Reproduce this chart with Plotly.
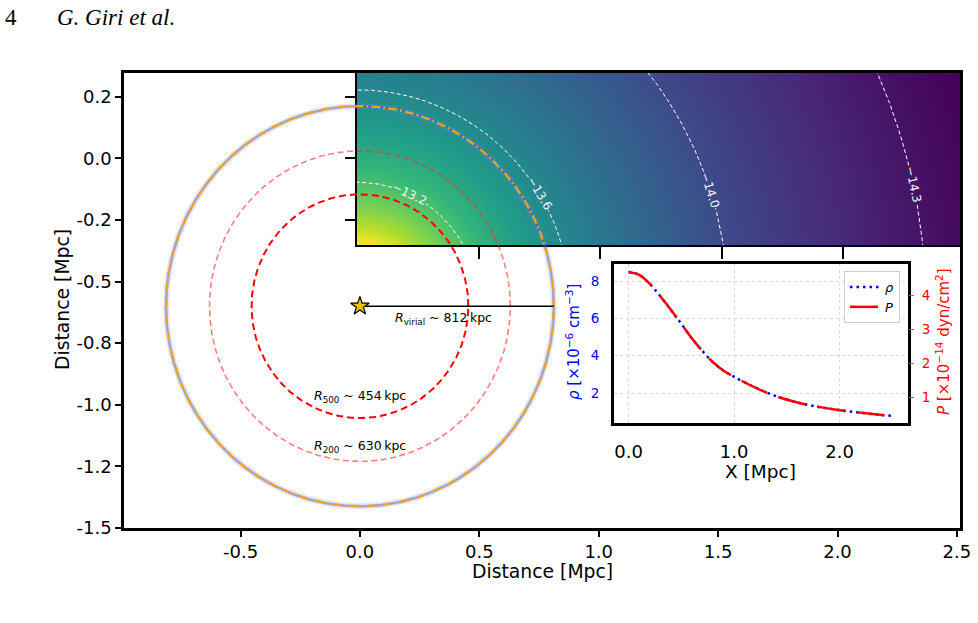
import numpy as np
import plotly.graph_objects as go

# ---------------- data ----------------
R_VIRIAL = 0.812   # Mpc
R200 = 0.630
R500 = 0.454
CENTER_X, CENTER_Y = 0.0, -0.6

CONTOUR_LEVELS = [-13.2, -13.6, -14.0, -14.3]
CONTOUR_RADII = [0.503, 0.878, 1.527, 2.34]
CONTOUR_LABELS = ["\u221213.2", "\u221213.6", "\u221214.0", "\u221214.3"]

X_PROFILE = [0.0, 0.1, 0.2, 0.3, 0.4, 0.5, 0.6, 0.7, 0.8, 0.9, 1.0,
             1.2, 1.4, 1.6, 1.8, 2.0, 2.2, 2.4, 2.5]
RHO = [8.48, 8.33, 7.85, 7.18, 6.45, 5.70, 4.92, 4.25, 3.65, 3.20, 2.87,
       2.30, 1.83, 1.50, 1.26, 1.09, 0.95, 0.83, 0.78]
PRESSURE = [4.70, 4.61, 4.35, 3.98, 3.58, 3.16, 2.73, 2.36, 2.03, 1.78, 1.60,
            1.28, 1.02, 0.84, 0.71, 0.61, 0.54, 0.47, 0.44]

MAIN_XTICKS = [-0.5, 0.0, 0.5, 1.0, 1.5, 2.0, 2.5]
MAIN_XTICKTEXT = ["-0.5", "0.0", "0.5", "1.0", "1.5", "2.0", "2.5"]
MAIN_YTICKS = [0.25, 0.0, -0.25, -0.5, -0.75, -1.0, -1.25, -1.5]
MAIN_YTICKTEXT = ["0.2", "0.0", "-0.2", "-0.5", "-0.8", "-1.0", "-1.2", "-1.5"]
INSET_XTICKS = [0.0, 1.0, 2.0]
INSET_XTICKTEXT = ["0.0", "1.0", "2.0"]
RHO_TICKS = [2, 4, 6, 8]
P_TICKS = [1, 2, 3, 4]

# ---------------- layout helpers ----------------
W, H = 978, 623
ML, MR, MT, MB = 124, 18, 73, 95
PW, PH = W - ML - MR, H - MT - MB


def pxx(px):
    return (px - ML) / PW


def pxy(py):
    return (H - MB - py) / PH


FONT = "DejaVu Sans"

# heatmap (own axes, x / y)
HX_RANGE = [0.0, 2.48]
HY_RANGE = [-0.352, 0.346]
hx_edges = np.linspace(HX_RANGE[0], HX_RANGE[1], 311)
hy_edges = np.linspace(HY_RANGE[0], HY_RANGE[1], 91)
hxc = 0.5 * (hx_edges[:-1] + hx_edges[1:])
hyc = 0.5 * (hy_edges[:-1] + hy_edges[1:])
GX, GY = np.meshgrid(hxc, hyc)
RR = np.sqrt((GX - CENTER_X) ** 2 + (GY - CENTER_Y) ** 2)
lr = np.log10(np.array(CONTOUR_RADII))
lv = np.array(CONTOUR_LEVELS)
logr = np.log10(RR)
field = np.interp(logr, lr, lv)
s0 = (lv[1] - lv[0]) / (lr[1] - lr[0])
s1 = (lv[-1] - lv[-2]) / (lr[-1] - lr[-2])
field = np.where(logr < lr[0], lv[0] + (logr - lr[0]) * s0, field)
field = np.where(logr > lr[-1], lv[-1] + (logr - lr[-1]) * s1, field)

fig = go.Figure()

fig.add_trace(go.Heatmap(x=hx_edges, y=hy_edges, z=field, colorscale="Viridis",
                         showscale=False, zsmooth="best", hoverinfo="skip",
                         xaxis="x", yaxis="y"))

# contour lines (white dashed circles around the cluster centre) with label gaps
LABEL_PHI = [64.6, 31.4, 18.0, 12.2]
SX = 603 / (HX_RANGE[1] - HX_RANGE[0])
SY = 172 / (HY_RANGE[1] - HY_RANGE[0])
annotations = []
for lev, r, lab, phd in zip(CONTOUR_LEVELS, CONTOUR_RADII, CONTOUR_LABELS, LABEL_PHI):
    ph = np.radians(phd)
    gap = 0.078 / r
    a1 = np.linspace(ph + gap, np.pi / 2 + 0.05, 300)
    a2 = np.linspace(0.0, ph - gap, 300)
    xs = list(CENTER_X + r * np.cos(a1)) + [None] + list(CENTER_X + r * np.cos(a2))
    ys = list(CENTER_Y + r * np.sin(a1)) + [None] + list(CENTER_Y + r * np.sin(a2))
    fig.add_trace(go.Scatter(x=xs, y=ys, mode="lines", xaxis="x", yaxis="y",
                             line=dict(color="white", width=1, dash="4px,2.5px"),
                             showlegend=False, hoverinfo="skip"))
    ang = np.degrees(np.arctan2(np.cos(ph) * SY, np.sin(ph) * SX))
    annotations.append(dict(x=CENTER_X + r * np.cos(ph), y=CENTER_Y + r * np.sin(ph),
                            xref="x", yref="y", text=lab, showarrow=False,
                            xanchor="center", yanchor="middle",
                            textangle=ang, font=dict(family=FONT, size=12, color="#f4f4fa")))

# main axes circles
th = np.linspace(0, 2 * np.pi, 1441)


def circ(r):
    return CENTER_X + r * np.cos(th), CENTER_Y + r * np.sin(th)


cx, cy = circ(R_VIRIAL)
fig.add_trace(go.Scatter(x=cx, y=cy, mode="lines", xaxis="x2", yaxis="y2",
                         line=dict(color="rgba(130,130,255,0.22)", width=6),
                         showlegend=False, hoverinfo="skip"))
fig.add_trace(go.Scatter(x=cx, y=cy, mode="lines", xaxis="x2", yaxis="y2",
                         line=dict(color="rgba(50,90,220,0.45)", width=2.6),
                         showlegend=False, hoverinfo="skip"))
fig.add_trace(go.Scatter(x=cx, y=cy, mode="lines", xaxis="x2", yaxis="y2",
                         line=dict(color="#ffa500", width=2.2, dash="9px,3px,2px,3px"),
                         showlegend=False, hoverinfo="skip"))
cx, cy = circ(R200)
fig.add_trace(go.Scatter(x=cx, y=cy, mode="lines", xaxis="x2", yaxis="y2",
                         line=dict(color="rgba(255,40,40,0.6)", width=1.6, dash="6px,3.5px"),
                         showlegend=False, hoverinfo="skip"))
cx, cy = circ(R500)
fig.add_trace(go.Scatter(x=cx, y=cy, mode="lines", xaxis="x2", yaxis="y2",
                         line=dict(color="#ff0000", width=2, dash="7px,4px"),
                         showlegend=False, hoverinfo="skip"))
fig.add_trace(go.Scatter(x=[CENTER_X, CENTER_X + R_VIRIAL], y=[CENTER_Y, CENTER_Y],
                         mode="lines", xaxis="x2", yaxis="y2",
                         line=dict(color="black", width=1.5),
                         showlegend=False, hoverinfo="skip"))
fig.add_trace(go.Scatter(x=[CENTER_X], y=[CENTER_Y], mode="markers", xaxis="x2", yaxis="y2",
                         marker=dict(symbol="star", size=14, color="#f2c200",
                                     line=dict(color="black", width=1.2)),
                         showlegend=False, hoverinfo="skip"))

# inset profiles
fig.add_trace(go.Scatter(x=X_PROFILE, y=RHO, mode="lines", name="<i>\u03c1</i>",
                         xaxis="x3", yaxis="y3", line_shape="spline",
                         line=dict(color="#0000ff", width=2.5, dash="2.5px,4px")))
fig.add_trace(go.Scatter(x=X_PROFILE, y=PRESSURE, mode="lines", name="<i>P</i>",
                         xaxis="x3", yaxis="y4", line_shape="spline",
                         line=dict(color="#ff0000", width=2.5, dash="28px,12px")))


def txt(px, py, text, size, color="black", angle=0, family=FONT, xanchor="center"):
    return dict(x=pxx(px), y=pxy(py), xref="paper", yref="paper", showarrow=False,
                xanchor=xanchor, yanchor="middle", textangle=angle, text=text,
                font=dict(family=family, size=size, color=color))


annotations += [
    dict(x=0.348, y=-0.652, xref="x2", yref="y2", showarrow=False,
         xanchor="center", yanchor="middle",
         text="<i>R</i><sub>virial</sub> ~ 812\u2009kpc", font=dict(family=FONT, size=12.5, color="black")),
    dict(x=0.0, y=-0.966, xref="x2", yref="y2", showarrow=False,
         xanchor="center", yanchor="middle",
         text="<i>R</i><sub>500</sub> ~ 454\u2009kpc", font=dict(family=FONT, size=12.5, color="black")),
    dict(x=0.0, y=-1.169, xref="x2", yref="y2", showarrow=False,
         xanchor="center", yanchor="middle",
         text="<i>R</i><sub>200</sub> ~ 630\u2009kpc", font=dict(family=FONT, size=12.5, color="black")),
    txt(542, 571, "Distance [Mpc]", 18.8),
    txt(62, 300, "Distance [Mpc]", 18.8, angle=-90),
    txt(760, 471, "X [Mpc]", 18.5),
    txt(573, 342, "<i>\u03c1</i> [\u00d710<sup>\u22126</sup> cm<sup>\u22123</sup>]", 15, "#0000ff", -90),
    txt(943, 342, "<i>P</i> [\u00d710<sup>\u221214</sup> dyn/cm<sup>2</sup>]", 15, "#ff0000", -90),
    txt(11, 18, "4", 23, family="Liberation Serif"),
    txt(55, 18, "<i>G. Giri et al.</i>", 23, family="Liberation Serif", xanchor="left"),
    txt(876, 627, "3", 9, family="Liberation Serif"),
]

fig.update_layout(
    width=W, height=H,
    margin=dict(l=ML, r=MR, t=MT, b=MB, autoexpand=False),
    paper_bgcolor="white", plot_bgcolor="rgba(0,0,0,0)",
    font=dict(family=FONT, color="black"),
    showlegend=True,
    legend=dict(x=pxx(900), y=pxy(271), xanchor="right", yanchor="top",
                bgcolor="white", bordercolor="#cccccc", borderwidth=1,
                font=dict(family=FONT, size=13), itemwidth=30,
                tracegroupgap=0),
    annotations=annotations,
    # heatmap axes
    xaxis=dict(domain=[pxx(357), 1.0], range=HX_RANGE, anchor="y",
               showgrid=False, zeroline=False, showline=True, linecolor="black", linewidth=1.5,
               ticks="outside", ticklen=12, tickwidth=1.5, tickcolor="black",
               tickvals=[0.5, 1.0, 1.5, 2.0], showticklabels=False),
    yaxis=dict(domain=[pxy(245), 1.0], range=HY_RANGE, anchor="x",
               showgrid=False, zeroline=False, showline=True, linecolor="black", linewidth=1.5,
               ticks="outside", ticklen=10, tickwidth=1.5, tickcolor="black",
               tickvals=[0.25, 0.0, -0.25], showticklabels=False),
    # main axes
    xaxis2=dict(domain=[0, 1], range=[-0.988, 2.513], anchor="y2",
                showgrid=False, zeroline=False, showline=True, mirror=True,
                linecolor="black", linewidth=2.5,
                ticks="outside", ticklen=6, tickwidth=1.5, tickcolor="black",
                tickvals=MAIN_XTICKS, ticktext=MAIN_XTICKTEXT,
                tickfont=dict(family=FONT, size=18, color="black")),
    yaxis2=dict(domain=[0, 1], range=[-1.5, 0.346], anchor="x2",
                showgrid=False, zeroline=False, showline=True, mirror=True,
                linecolor="black", linewidth=2.5,
                ticks="outside", ticklen=6, tickwidth=1.5, tickcolor="black",
                tickvals=MAIN_YTICKS, ticktext=MAIN_YTICKTEXT,
                tickfont=dict(family=FONT, size=18, color="black")),
    # inset axes
    xaxis3=dict(domain=[pxx(614), pxx(908)], range=[-0.139, 2.648], anchor="y3",
                showgrid=True, gridcolor="#d9d9d9", griddash="dot", gridwidth=1,
                zeroline=False, showline=True, mirror=True, linecolor="black", linewidth=3,
                ticks="", tickvals=INSET_XTICKS, ticktext=INSET_XTICKTEXT,
                ticklabelstandoff=10,
                tickfont=dict(family=FONT, size=18, color="black")),
    yaxis3=dict(domain=[pxy(423), pxy(264)], range=[0.40, 8.91], anchor="x3",
                showgrid=True, gridcolor="#d9d9d9", griddash="dot", gridwidth=1,
                zeroline=False, showline=True, mirror=True, linecolor="black", linewidth=3,
                ticks="", tickvals=RHO_TICKS, ticklabelstandoff=9,
                tickfont=dict(family=FONT, size=13.5, color="#0000ff")),
    yaxis4=dict(range=[0.233, 4.934], anchor="x3", overlaying="y3", side="right",
                showgrid=False, zeroline=False, showline=False,
                ticks="outside", ticklen=5, tickwidth=1, tickcolor="#777777",
                tickvals=P_TICKS, ticklabelstandoff=5,
                tickfont=dict(family=FONT, size=13.5, color="#ff0000")),
)

fig.write_html("out.html")
